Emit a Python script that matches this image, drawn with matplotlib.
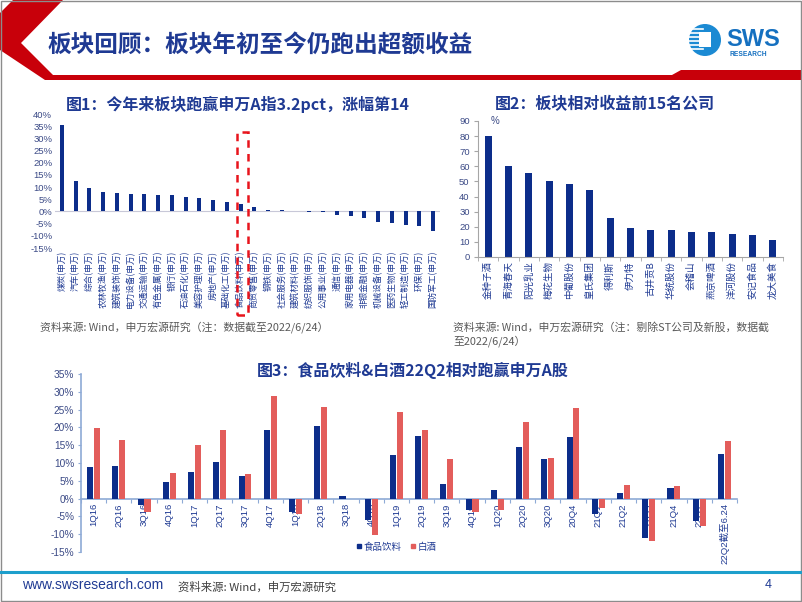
import matplotlib
matplotlib.use("Agg")
import matplotlib.pyplot as plt
from matplotlib.patches import Polygon, Rectangle, Circle
from matplotlib.lines import Line2D
import numpy as np

plt.rcParams['font.family'] = ['Noto Sans CJK SC', 'DejaVu Sans']

# chart 1: industry excess return YTD
ind_names = ['煤炭(申万)', '汽车(申万)', '综合(申万)', '农林牧渔(申万)', '建筑装饰(申万)',
             '电力设备(申万)', '交通运输(申万)', '有色金属(申万)', '银行(申万)', '石油石化(申万)',
             '美容护理(申万)', '房地产(申万)', '基础化工(申万)', '食品饮料(申万)', '商贸零售(申万)',
             '钢铁(申万)', '社会服务(申万)', '建筑材料(申万)', '纺织服饰(申万)', '公用事业(申万)',
             '通信(申万)', '家用电器(申万)', '非银金融(申万)', '机械设备(申万)', '医药生物(申万)',
             '轻工制造(申万)', '环保(申万)', '国防军工(申万)']
ind_vals = [35.6, 12.3, 9.8, 8.0, 7.6, 7.3, 7.1, 6.6, 6.6, 6.1, 5.4, 4.7, 3.9, 3.2, 1.8,
            0.8, 0.8, 0.1, -0.1, -0.2, -1.3, -1.8, -2.6, -4.2, -4.9, -5.5, -5.8, -8.1]
ind_yticks = [-15, -10, -5, 0, 5, 10, 15, 20, 25, 30, 35, 40]

# chart 2: top 15 stocks
stk_names = ['金种子酒', '青海春天', '阳光乳业', '梅花生物', '中葡股份', '皇氏集团', '得利斯',
             '伊力特', '古井贡B', '华统股份', '会稽山', '燕京啤酒', '洋河股份', '安记食品', '龙大美食']
stk_vals = [80.4, 60.2, 55.6, 50.2, 48.0, 44.5, 25.5, 19.1, 18.0, 18.0, 16.5, 16.3, 15.4, 14.5, 11.4]

# chart 3: quarterly excess return
quarters = ['1Q16', '2Q16', '3Q16', '4Q16', '1Q17', '2Q17', '3Q17', '4Q17', '1Q18', '2Q18',
            '3Q18', '4Q18', '1Q19', '2Q19', '3Q19', '4Q19', '1Q20', '2Q20', '3Q20', '20Q4',
            '21Q1', '21Q2', '21Q3', '21Q4', '22Q1', '22Q2截至6.24']
food_vals = [8.8, 9.2, -1.8, 4.7, 7.5, 10.2, 6.3, 19.2, -3.8, 20.3, 0.7, -5.9, 12.3, 17.6,
             4.1, -3.2, 2.3, 14.5, 11.0, 17.2, -4.3, 1.6, -11.2, 2.9, -6.3, 12.4]
liquor_vals = [19.9, 16.6, -3.7, 7.2, 15.0, 19.3, 6.9, 28.8, -4.2, 25.7, 0.0, -10.2, 24.4, 19.4,
               11.2, -3.9, -3.1, 21.4, 11.5, 25.4, -2.7, 3.8, -11.9, 3.4, -7.6, 16.3]

BLUE = '#0c2d8a'
RED = '#e35d5b'
TITLE = '#1f3a93'
TICK = '#3b4a86'
GRAY = '#595959'

fig = plt.figure(figsize=(8.02, 6.02), dpi=100)

# page decoration in pixel coordinates
bg = fig.add_axes([0, 0, 1, 1])
bg.set_xlim(0, 802)
bg.set_ylim(602, 0)
bg.axis('off')
bg.add_patch(Polygon([(13, 0), (63, 0), (21, 43), (53, 75), (672, 75), (681, 70), (802, 70),
                      (802, 80), (45, 80), (0, 50), (0, 13)], closed=True,
                     facecolor='#c8000a', edgecolor='none'))
bg.text(47, 46, '板块回顾：板块年初至今仍跑出超额收益', fontsize=17, fontweight='bold',
        color=TITLE, va='center', ha='left')
# logo
bg.add_patch(Circle((705, 40), 16, facecolor='#1b8ad3', edgecolor='none'))
for yy in range(29, 53, 4):
    bg.plot([689, 703], [yy, yy], color='white', lw=1.2)
bg.add_patch(Rectangle((699, 32), 12, 15, facecolor='white', edgecolor='none'))
bg.text(726, 39, 'SWS', fontsize=17, fontweight='bold', color='#1570c0', va='center',
        family=['Liberation Sans'])
bg.text(729, 55, 'RESEARCH', fontsize=4.8, fontweight='bold', color='#1570c0', va='center',
        family=['Liberation Sans'])

# footer
bg.plot([0, 802], [572, 572], color='#1d9fcc', lw=2.2)
bg.text(22, 585, 'www.swsresearch.com', fontsize=10, color=TITLE, va='center',
        family=['Liberation Sans'])
bg.text(178, 587, '资料来源: Wind，申万宏源研究', fontsize=8.2, color='#404040', va='center')
bg.text(765, 585, '4', fontsize=9, color=TITLE, va='center', family=['Liberation Sans'])
bg.add_patch(Rectangle((0.5, 0.5), 800, 600, facecolor='none', edgecolor='#8c8c8c', lw=1))

# chart titles and sources
bg.text(238, 104, '图1：今年来板块跑赢申万A指3.2pct，涨幅第14', fontsize=11.5,
        fontweight='bold', color=TITLE, ha='center', va='center')
bg.text(605, 104, '图2：板块相对收益前15名公司', fontsize=11.5, fontweight='bold',
        color=TITLE, ha='center', va='center')
bg.text(413, 370, '图3：食品饮料&白酒22Q2相对跑赢申万A股', fontsize=11.5, fontweight='bold',
        color=TITLE, ha='center', va='center')
bg.text(40, 327, '资料来源: Wind，申万宏源研究（注：数据截至2022/6/24）', fontsize=7.8,
        color=GRAY, va='center')
bg.text(453, 327, '资料来源: Wind，申万宏源研究（注：剔除ST公司及新股，数据截', fontsize=7.8,
        color=GRAY, va='center')
bg.text(453, 341, '至2022/6/24）', fontsize=7.8, color=GRAY, va='center')

# chart 1
ax1 = fig.add_axes([55 / 802, 1 - 248 / 602, 385 / 802, 134 / 602])
x1 = np.arange(len(ind_names))
ax1.bar(x1, ind_vals, width=0.28, color=BLUE, zorder=2)
ax1.axhline(0, color='#c8c8d8', lw=0.8, zorder=1)
ax1.set_xlim(-0.5, len(ind_names) - 0.5)
ax1.set_ylim(-15, 40)
ax1.set_yticks(ind_yticks)
ax1.set_yticklabels([f'{v}%' for v in ind_yticks], fontsize=6.8, color=TICK,
                    family=['Liberation Sans'])
ax1.set_xticks(x1)
ax1.set_xticklabels(ind_names, rotation=90, fontsize=6.2, color=TITLE)
ax1.tick_params(length=0, pad=2)
for s in ax1.spines.values():
    s.set_visible(False)
ax1.patch.set_alpha(0)
hl = ind_names.index('食品饮料(申万)')
ax1.add_patch(Rectangle((hl - 0.27, -42.5), 0.8, 75, facecolor='none', edgecolor='#e8141c',
                        lw=1.8, ls=(0, (3, 2.5)), clip_on=False, zorder=4))

# chart 2
ax2 = fig.add_axes([478 / 802, 1 - 257 / 602, 305 / 802, 136 / 602])
x2 = np.arange(len(stk_names))
ax2.bar(x2, stk_vals, width=0.33, color=BLUE, zorder=2)
ax2.set_xlim(-0.5, len(stk_names) - 0.5)
ax2.set_ylim(0, 90)
ax2.set_yticks(range(0, 91, 10))
ax2.set_yticklabels([str(v) for v in range(0, 91, 10)], fontsize=6.8, color=TICK,
                    family=['Liberation Sans'])
ax2.set_xticks(x2)
ax2.set_xticklabels(stk_names, rotation=90, fontsize=6.8, color=TITLE)
ax2.set_xticks(np.arange(-0.5, len(stk_names)), minor=True)
ax2.tick_params(axis='x', which='major', length=0, pad=3)
ax2.tick_params(axis='x', which='minor', length=3, color='#a6a6a6')
ax2.tick_params(axis='y', length=3, color='#a6a6a6', pad=3)
for k in ['top', 'right']:
    ax2.spines[k].set_visible(False)
for k in ['left', 'bottom']:
    ax2.spines[k].set_color('#a6a6a6')
    ax2.spines[k].set_linewidth(0.8)
ax2.patch.set_alpha(0)
ax2.text(0.12, 90, '%', fontsize=7, color=TICK, va='center', family=['Liberation Sans'])

# chart 3
ax3 = fig.add_axes([81 / 802, 1 - 552 / 602, 656 / 802, 178 / 602])
x3 = np.arange(len(quarters))
ax3.bar(x3 - 0.135, food_vals, width=0.24, color=BLUE, zorder=3, label='食品饮料')
ax3.bar(x3 + 0.135, liquor_vals, width=0.24, color=RED, zorder=3, label='白酒')
ax3.set_xlim(-0.5, len(quarters) - 0.5)
ax3.set_ylim(-15, 35)
ax3.set_yticks(range(-15, 36, 5))
ax3.set_yticklabels([f'{v}%' for v in range(-15, 36, 5)], fontsize=7.3, color=TICK,
                    family=['Liberation Sans'])
ax3.set_xticks(np.arange(-0.5, len(quarters)))
ax3.set_xticklabels([])
ax3.tick_params(axis='x', length=3, color='#8eaad6', direction='out')
ax3.tick_params(axis='y', length=2, color='#8eaad6', pad=3)
ax3.spines['bottom'].set_position(('data', 0))
for k in ['top', 'right']:
    ax3.spines[k].set_visible(False)
for k in ['left', 'bottom']:
    ax3.spines[k].set_color('#8eaad6')
    ax3.spines[k].set_linewidth(1.2)
for i, q in enumerate(quarters):
    ax3.text(i, -1.3, q, rotation=90, ha='center', va='top', fontsize=6.8, color=TITLE,
             family=['Liberation Sans', 'Noto Sans CJK SC'], zorder=1)
ax3.patch.set_alpha(0)
handles = [Line2D([], [], marker='s', ls='none', color=BLUE, markersize=3),
           Line2D([], [], marker='s', ls='none', color=RED, markersize=3)]
ax3.legend(handles, ['食品饮料', '白酒'], loc='center', bbox_to_anchor=(396 / 802, 1 - 547 / 602),
           bbox_transform=fig.transFigure, ncol=2, frameon=False, fontsize=6.8,
           handlelength=0.6, handletextpad=0.2, columnspacing=0.9, labelcolor=TITLE)

fig.savefig('out.png', dpi=100)
